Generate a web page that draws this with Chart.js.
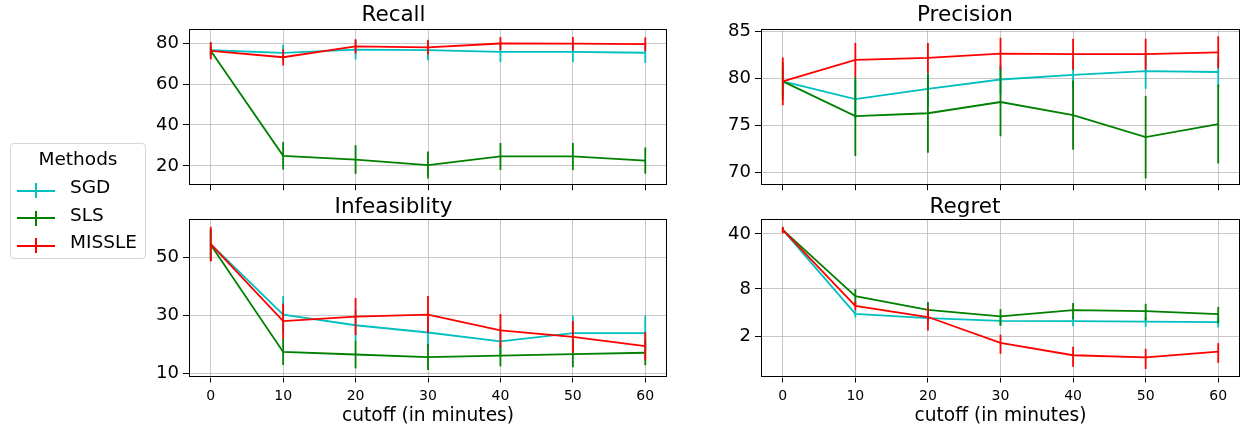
<!DOCTYPE html>
<html>
<head>
<meta charset="utf-8">
<script src="https://cdn.jsdelivr.net/npm/chart.js@4.4.0/dist/chart.umd.min.js"></script>
<style>
  body { margin: 0; background: #fff; width: 1242px; height: 425px; overflow: hidden; position: relative; font-family: "DejaVu Sans", sans-serif; }
  canvas { position: absolute; }
  #legend { position: absolute; left: 10px; top: 143px; width: 134px; height: 114px; border: 1px solid #d6d6d6; border-radius: 4px; background: #fff; }
  #legend .ttl { position: absolute; left: 0; width: 134px; top: 3.8px; text-align: center; font-size: 18.5px; line-height: normal; }
  #legend .row { position: absolute; left: 0; width: 134px; height: 22px; font-size: 18.5px; line-height: normal; }
  #legend .hl { position: absolute; left: 6px; width: 38px; height: 2px; top: 13.7px; }
  #legend .vl { position: absolute; left: 24px; width: 2px; height: 15px; top: 7.2px; }
  #legend .lbl { position: absolute; left: 59px; top: 0; white-space: nowrap; }
</style>
</head>
<body>
<canvas id="recall" width="557" height="200" style="left:120px;top:0px"></canvas>
<canvas id="precision" width="552" height="200" style="left:690px;top:0px"></canvas>
<canvas id="infeas" width="557" height="235" style="left:120px;top:190px"></canvas>
<canvas id="regret" width="552" height="235" style="left:690px;top:190px"></canvas>
<div id="legend">
  <div class="ttl">Methods</div>
  <div class="row" style="top:32.1px"><div class="hl" style="background:#00bfbf"></div><div class="vl" style="background:#00bfbf"></div><span class="lbl">SGD</span></div>
  <div class="row" style="top:59.5px"><div class="hl" style="background:#008000"></div><div class="vl" style="background:#008000"></div><span class="lbl">SLS</span></div>
  <div class="row" style="top:87.1px"><div class="hl" style="background:#ff0000"></div><div class="vl" style="background:#ff0000"></div><span class="lbl">MISSLE</span></div>
</div>
<script>
const cutoffs = [0, 10, 20, 30, 40, 50, 60];
const xTicks = [0, 10, 20, 30, 40, 50, 60];

// Recall
const recallSGD = [76.5, 75.2, 76.8, 76.6, 75.7, 75.7, 75.3];
const recallSGDErr = [4, 4, 4.8, 5, 5, 5, 5];
const recallSLS = [76.3, 24.9, 23.1, 20.4, 24.6, 24.6, 22.6];
const recallSLSErr = [2, 6.7, 7, 6.6, 6.6, 6.6, 6.4];
const recallMISSLE = [76.2, 73.1, 78.4, 77.9, 79.8, 79.7, 79.5];
const recallMISSLEErr = [4.2, 4, 3.5, 3.5, 3.2, 3.3, 3.3];
const recallTicks = [20, 40, 60, 80];

// Precision
const precSGD = [79.7, 77.8, 78.9, 79.9, 80.4, 80.8, 80.7];
const precSGDErr = [1.5, 2.0, 1.8, 1.6, 1.5, 1.9, 1.6];
const precSLS = [79.7, 76.0, 76.3, 77.5, 76.1, 73.75, 75.15];
const precSLSErr = [2.0, 4.25, 4.2, 3.65, 3.7, 4.4, 4.2];
const precMISSLE = [79.7, 82.0, 82.2, 82.65, 82.6, 82.6, 82.8];
const precMISSLEErr = [2.55, 1.8, 1.6, 1.7, 1.65, 1.65, 1.7];
const precTicks = [70, 75, 80, 85];

// Infeasiblity
const infSGD = [54.5, 30.2, 26.5, 24.0, 20.9, 23.8, 23.8];
const infSGDErr = [5, 6.4, 5.3, 5, 5, 6, 6];
const infSLS = [54.3, 17.3, 16.4, 15.5, 16.0, 16.5, 17.0];
const infSLSErr = [5.5, 4.5, 4.8, 4.5, 3.7, 4.5, 4.3];
const infMISSLE = [54.5, 27.9, 29.5, 30.2, 24.7, 22.5, 19.3];
const infMISSLEErr = [6, 6.1, 6.4, 6.4, 5.7, 5.5, 4.8];
const infTicks = [10, 30, 50];

// Regret (log scale)
const regSGD = [45, 3.87, 3.41, 3.15, 3.13, 3.07, 3.04];
const regSGDErr = [3, 0.4, 0.4, 0.4, 0.45, 0.45, 0.45];
const regSLS = [45, 6.47, 4.35, 3.58, 4.3, 4.18, 3.83];
const regSLSErr = [3, 1.5, 1.1, 0.85, 1.0, 1.0, 0.9];
const regMISSLE = [45, 4.89, 3.52, 1.65, 1.15, 1.08, 1.28];
const regMISSLEErr = [4.3, 0.6, 1.15, 0.45, 0.33, 0.31, 0.36];
const regTicks = [2, 8, 40];

const COLORS = { SGD: "#00bfbf", SLS: "#008000", MISSLE: "#ff0000" };

Chart.defaults.font.family = "'DejaVu Sans', sans-serif";
Chart.defaults.color = "#000";

// vertical error bars drawn right after each line, through the chart's scales
const errorBars = {
  id: "errorBars",
  afterDatasetDraw(chart, args) {
    const ds = chart.data.datasets[args.index];
    if (!ds.errors) return;
    const ctx = chart.ctx, xs = chart.scales.x, ys = chart.scales.y;
    ctx.save();
    ctx.strokeStyle = ds.borderColor;
    ctx.lineWidth = 1.8;
    ds.data.forEach(function (p, i) {
      const e = ds.errors[i];
      const x = xs.getPixelForValue(p.x);
      ctx.beginPath();
      ctx.moveTo(x, ys.getPixelForValue(p.y - e));
      ctx.lineTo(x, ys.getPixelForValue(p.y + e));
      ctx.stroke();
    });
    ctx.restore();
  }
};

// full box around the plot area (matplotlib spines)
const frame = {
  id: "frame",
  afterDatasetsDraw(chart) {
    const a = chart.chartArea, ctx = chart.ctx;
    ctx.save();
    ctx.strokeStyle = "#000";
    ctx.lineWidth = 1;
    ctx.strokeRect(Math.round(a.left) + 0.5, Math.round(a.top) + 0.5,
      Math.round(a.right - a.left) - 1, Math.round(a.bottom - a.top) - 1);
    ctx.restore();
  }
};

function series(label, vals, errs, order) {
  return {
    label: label,
    data: cutoffs.map(function (c, i) { return { x: c, y: vals[i] }; }),
    errors: errs,
    borderColor: COLORS[label],
    backgroundColor: COLORS[label],
    borderWidth: 1.8,
    pointRadius: 0,
    tension: 0,
    fill: false,
    order: order
  };
}

function makeChart(id, title, datasets, o) {
  new Chart(document.getElementById(id), {
    type: "line",
    data: { datasets: datasets },
    plugins: [errorBars, frame],
    options: {
      responsive: false,
      animation: false,
      devicePixelRatio: 1,
      layout: { padding: { left: 0, right: o.padRight, top: 0, bottom: 0 } },
      plugins: {
        legend: { display: false },
        tooltip: { enabled: false },
        title: {
          display: true,
          text: title,
          color: "#000",
          font: { size: 21.5, weight: "normal", lineHeight: 1 },
          padding: { top: o.titleTop, bottom: 29.3 - o.titleTop - 21.5 }
        }
      },
      scales: {
        x: {
          type: "linear",
          min: -3,
          max: 63,
          afterBuildTicks: function (s) { s.ticks = xTicks.map(function (v) { return { value: v }; }); },
          afterFit: function (s) { s.height = o.xHeight; },
          grid: { color: "rgba(176,176,176,0.7)", lineWidth: 1, tickColor: "#000", tickLength: 5 },
          border: { display: false },
          ticks: { display: o.xLabels, font: { size: 14 }, padding: 5, color: "#000", maxRotation: 0 },
          title: {
            display: o.xLabels,
            text: "cutoff (in minutes)",
            font: { size: 18.6, lineHeight: 0.9 },
            color: "#000",
            padding: { top: 0, bottom: 0.5 }
          }
        },
        y: {
          type: o.yType,
          min: o.yMin,
          max: o.yMax,
          afterBuildTicks: function (s) { s.ticks = o.yTicks.map(function (v) { return { value: v }; }); },
          afterFit: function (s) { s.width = o.yWidth; },
          grid: { color: "rgba(176,176,176,0.7)", lineWidth: 1, tickColor: "#000", tickLength: 6 },
          border: { display: false },
          ticks: {
            font: { size: 18 },
            padding: 4,
            color: "#000",
            callback: function (v) { return String(v); }
          }
        }
      }
    }
  });
}

makeChart("recall", "Recall", [
  series("SGD", recallSGD, recallSGDErr, 3),
  series("SLS", recallSLS, recallSLSErr, 2),
  series("MISSLE", recallMISSLE, recallMISSLEErr, 1)
], { yType: "linear", yMin: 10.55, yMax: 86.75, yTicks: recallTicks, yWidth: 69, padRight: 10, xHeight: 12.7, xLabels: false, titleTop: 4.2 });

makeChart("precision", "Precision", [
  series("SGD", precSGD, precSGDErr, 3),
  series("SLS", precSLS, precSLSErr, 2),
  series("MISSLE", precMISSLE, precMISSLEErr, 1)
], { yType: "linear", yMin: 68.63, yMax: 85.25, yTicks: precTicks, yWidth: 71, padRight: 2, xHeight: 12.7, xLabels: false, titleTop: 4.2 });

makeChart("infeas", "Infeasiblity", [
  series("SGD", infSGD, infSGDErr, 3),
  series("SLS", infSLS, infSLSErr, 2),
  series("MISSLE", infMISSLE, infMISSLEErr, 1)
], { yType: "linear", yMin: 8.45, yMax: 63.1, yTicks: infTicks, yWidth: 69, padRight: 10, xHeight: 47.5, xLabels: true, titleTop: 6.2 });

makeChart("regret", "Regret", [
  series("SGD", regSGD, regSGDErr, 3),
  series("SLS", regSLS, regSLSErr, 2),
  series("MISSLE", regMISSLE, regMISSLEErr, 1)
], { yType: "logarithmic", yMin: 0.616, yMax: 61.4, yTicks: regTicks, yWidth: 71, padRight: 2, xHeight: 47.5, xLabels: true, titleTop: 6.2 });
</script>
</body>
</html>
